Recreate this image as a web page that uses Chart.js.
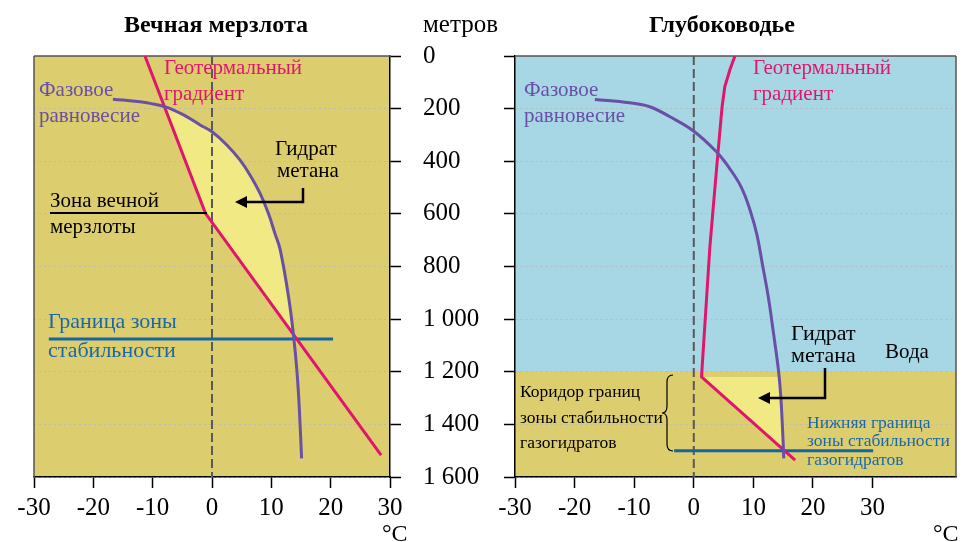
<!DOCTYPE html>
<html lang="ru">
<head>
<meta charset="utf-8">
<title>Зона стабильности газогидратов</title>
<script src="https://cdn.jsdelivr.net/npm/chart.js@4.4.1/dist/chart.umd.min.js"></script>
<style>
  html, body { margin: 0; padding: 0; background: #fff; }
  #wrap { position: relative; width: 963px; height: 542px; overflow: hidden; }
  canvas { position: absolute; top: 0; }
  #permafrost { left: 0; }
  #deepwater { left: 490px; }
</style>
</head>
<body>
<div id="wrap">
  <canvas id="permafrost" width="520" height="542"></canvas>
  <canvas id="deepwater" width="473" height="542"></canvas>
</div>
<script>
// Depth axis (metres), shared by both panels
const depthTicks = [0, 200, 400, 600, 800, 1000, 1200, 1400, 1600];
const depthLabels = ['0', '200', '400', '600', '800', '1 000', '1 200', '1 400', '1 600'];
const tempTicks = [-30, -20, -10, 0, 10, 20, 30];
const zeroLine = [[0, 0], [0, 1600]];

// Permafrost panel, points are [°C, metres]
const permaPhase = [[-16.7, 164], [-12.1, 174], [-10.4, 180], [-7.6, 195], [-4.8, 224], [-2.0, 262], [0, 288],
  [2.5, 338], [4.7, 395], [6.4, 452], [8.1, 522], [9.5, 598], [10.6, 674], [11.5, 737], [12.9, 915],
  [13.7, 1054], [14.3, 1193], [14.7, 1333], [15.1, 1529]];
const permaGeotherm = [[-11.3, 0], [-1.1, 598], [28.5, 1517]];
const permaHydrateEdge = [[-8.0, 188], [-1.1, 598], [13.7, 1058]];
const permaStability = [[-27.5, 1076], [20.4, 1076]];

// Deep water panel
const deepPhase = [[-16.6, 165], [-10.8, 178], [-7.4, 193], [-4.0, 231], [-0.1, 284], [3.8, 364], [6.0, 427],
  [8.0, 500], [9.5, 590], [10.6, 680], [11.5, 790], [12.5, 915], [13.3, 1041], [14.2, 1193], [14.6, 1295],
  [14.9, 1421], [15.1, 1529]];
const deepGeotherm = [[6.9, 0], [6.05, 53], [5.2, 117], [4.75, 193], [4.35, 294], [3.9, 408], [2.7, 725],
  [1.3, 1219], [17.0, 1536]];
const deepHydrateEdge = [[1.3, 1219], [15.0, 1497]];
const deepStability = [[-3.3, 1500], [30.1, 1500]];
const seafloorDepth = 1200;

const OLIVE = '#dccd6f';
const PALE = '#f0e984';
const WATER = '#a7d6e5';
const MAG = '#e0166d';
const PUR = '#6a4fa7';
const BLUE = '#1565a4';
const BLUE_T = '#1b68a8';
const GRID = 'rgba(185, 185, 185, 0.9)';
const SERIF = 'Liberation Serif';

Chart.defaults.font.family = SERIF;
Chart.defaults.color = '#000';

const pts = arr => arr.map(([x, y]) => ({ x, y }));

// background, frame and the hand-placed notes of each panel
const panelDecor = {
  id: 'panelDecor',
  beforeDraw(chart, args, opts) {
    const { ctx, chartArea: a, scales } = chart;
    ctx.save();
    ctx.fillStyle = opts.ground;
    ctx.fillRect(a.left, a.top, a.width, a.height);
    if (opts.water) {
      const yw = scales.y.getPixelForValue(opts.waterDepth);
      ctx.fillStyle = opts.water;
      ctx.fillRect(a.left, a.top, a.width, yw - a.top);
    }
    ctx.restore();
  },
  beforeDatasetsDraw(chart, args, opts) {
    const { ctx, chartArea: a } = chart;
    ctx.save();
    ctx.strokeStyle = '#555';
    ctx.lineWidth = 1.5;
    ctx.beginPath();
    ctx.moveTo(a.left, a.top);
    ctx.lineTo(a.right, a.top);
    const side = opts.frameSide === 'left' ? a.left : a.right;
    ctx.moveTo(side, a.top);
    ctx.lineTo(side, a.bottom);
    ctx.stroke();
    ctx.restore();
  },
  afterDraw(chart, args, opts) {
    const ctx = chart.ctx;
    const dx = opts.dx || 0;
    ctx.save();
    ctx.translate(-dx, 0);
    (opts.texts || []).forEach(t => {
      ctx.font = (t.bold ? 'bold ' : '') + (t.size || 21) + 'px "' + SERIF + '"';
      ctx.fillStyle = t.color || '#000';
      ctx.textAlign = t.align || 'left';
      ctx.textBaseline = 'alphabetic';
      ctx.fillText(t.text, t.x, t.y);
    });
    ctx.strokeStyle = '#000';
    ctx.fillStyle = '#000';
    (opts.lines || []).forEach(l => {
      ctx.lineWidth = 2;
      ctx.beginPath();
      l.forEach(([x, y], i) => (i ? ctx.lineTo(x, y) : ctx.moveTo(x, y)));
      ctx.stroke();
    });
    (opts.arrows || []).forEach(l => {
      const n = l.length;
      const [tx, ty] = l[n - 1];
      const [px, py] = l[n - 2];
      const ang = Math.atan2(ty - py, tx - px);
      ctx.lineWidth = 2.5;
      ctx.beginPath();
      l.forEach(([x, y], i) => {
        if (i === n - 1) { x -= Math.cos(ang) * 8; y -= Math.sin(ang) * 8; }
        i ? ctx.lineTo(x, y) : ctx.moveTo(x, y);
      });
      ctx.stroke();
      ctx.beginPath();
      ctx.moveTo(tx, ty);
      ctx.lineTo(tx - Math.cos(ang) * 12 - Math.sin(ang) * 6, ty - Math.sin(ang) * 12 + Math.cos(ang) * 6);
      ctx.lineTo(tx - Math.cos(ang) * 12 + Math.sin(ang) * 6, ty - Math.sin(ang) * 12 - Math.cos(ang) * 6);
      ctx.closePath();
      ctx.fill();
    });
    if (opts.brace) {
      const { x, spine, tip, top, mid, bottom } = opts.brace;
      ctx.lineWidth = 1.2;
      ctx.beginPath();
      ctx.moveTo(x, top);
      ctx.quadraticCurveTo(spine, top, spine, top + 7);
      ctx.lineTo(spine, mid - 7);
      ctx.quadraticCurveTo(spine, mid, tip, mid);
      ctx.quadraticCurveTo(spine, mid, spine, mid + 7);
      ctx.lineTo(spine, bottom - 7);
      ctx.quadraticCurveTo(spine, bottom, x, bottom);
      ctx.stroke();
    }
    ctx.restore();
  }
};

function lineSet(data, color, extra) {
  return Object.assign({
    data: pts(data),
    borderColor: color,
    borderWidth: 3,
    pointRadius: 0,
    tension: 0,
    fill: false
  }, extra || {});
}

function panelDatasets(phase, geotherm, edge, stability) {
  return [
    lineSet(zeroLine, '#595959', { borderWidth: 2, borderDash: [9, 4], order: 5 }),
    lineSet(phase, PUR, { tension: 0.4 }),
    lineSet(geotherm, MAG),
    lineSet(stability, BLUE),
    // hydrate stability zone, filled up to the phase curve (dataset 1)
    lineSet(edge, 'rgba(0,0,0,0)', { borderWidth: 0, fill: 1, backgroundColor: PALE, order: 10 })
  ];
}

function xScale(max) {
  return {
    type: 'linear', min: -30, max: max,
    afterBuildTicks: s => { s.ticks = tempTicks.map(v => ({ value: v })); },
    afterFit: s => { s.height = 65; },
    ticks: { color: '#000', font: { size: 25 }, padding: 5, maxRotation: 0, autoSkip: false },
    grid: { drawOnChartArea: false, tickLength: 11, tickColor: '#000', tickWidth: 1.5 },
    border: { color: '#000', width: 1.5 }
  };
}

function yScale(position, width, showLabels) {
  return {
    type: 'linear', min: 0, max: 1600, reverse: true, position: position,
    afterBuildTicks: s => { s.ticks = depthTicks.map(v => ({ value: v })); },
    afterFit: s => { s.width = width; },
    ticks: {
      display: showLabels, color: '#000', font: { size: 25 }, padding: 22, autoSkip: false,
      callback: v => depthLabels[depthTicks.indexOf(v)]
    },
    grid: { color: GRID, lineWidth: 1, tickLength: 11, tickColor: '#000', tickWidth: 1.5, tickBorderDash: [] },
    border: { color: '#000', width: 1.5, dash: [2, 3] }
  };
}

new Chart(document.getElementById('permafrost'), {
  type: 'line',
  data: { datasets: panelDatasets(permaPhase, permaGeotherm, permaHydrateEdge, permaStability) },
  options: {
    indexAxis: 'y',
    responsive: false,
    animation: false,
    events: [],
    layout: { padding: { left: 34, top: 56, right: 0, bottom: 0 } },
    scales: { x: xScale(30), y: yScale('right', 130, true) },
    plugins: {
      legend: { display: false },
      tooltip: { enabled: false },
      panelDecor: {
        ground: OLIVE,
        frameSide: 'left',
        dx: 0,
        texts: [
          { text: 'Вечная мерзлота', x: 216, y: 32, size: 24, bold: true, align: 'center' },
          { text: 'метров', x: 423, y: 32, size: 25 },
          { text: '°C', x: 382, y: 541, size: 24 },
          { text: 'Геотермальный', x: 164, y: 74, color: MAG },
          { text: 'градиент', x: 164, y: 100, color: MAG },
          { text: 'Фазовое', x: 39, y: 96, color: PUR },
          { text: 'равновесие', x: 39, y: 122, color: PUR },
          { text: 'Гидрат', x: 275, y: 155, size: 21 },
          { text: 'метана', x: 277, y: 177, size: 21 },
          { text: 'Зона вечной', x: 50, y: 207, size: 21 },
          { text: 'мерзлоты', x: 50, y: 233, size: 21 },
          { text: 'Граница зоны', x: 48, y: 328, size: 22, color: BLUE_T },
          { text: 'стабильности', x: 48, y: 357, size: 22, color: BLUE_T }
        ],
        lines: [[[50, 213], [207, 213]]],
        arrows: [[[303, 188], [303, 202], [235, 202]]]
      }
    }
  },
  plugins: [panelDecor]
});

new Chart(document.getElementById('deepwater'), {
  type: 'line',
  data: { datasets: panelDatasets(deepPhase, deepGeotherm, deepHydrateEdge, deepStability) },
  options: {
    indexAxis: 'y',
    responsive: false,
    animation: false,
    events: [],
    layout: { padding: { left: 0, top: 56, right: 7, bottom: 0 } },
    scales: { x: xScale(44), y: yScale('left', 25, false) },
    plugins: {
      legend: { display: false },
      tooltip: { enabled: false },
      panelDecor: {
        ground: OLIVE,
        water: WATER,
        waterDepth: seafloorDepth,
        frameSide: 'right',
        dx: 490,
        texts: [
          { text: 'Глубоководье', x: 722, y: 32, size: 24, bold: true, align: 'center' },
          { text: '°C', x: 933, y: 541, size: 24 },
          { text: 'Фазовое', x: 524, y: 96, color: PUR },
          { text: 'равновесие', x: 524, y: 122, color: PUR },
          { text: 'Геотермальный', x: 753, y: 74, color: MAG },
          { text: 'градиент', x: 753, y: 100, color: MAG },
          { text: 'Гидрат', x: 791, y: 340, size: 22 },
          { text: 'метана', x: 791, y: 362, size: 22 },
          { text: 'Вода', x: 885, y: 358, size: 21 },
          { text: 'Коридор границ', x: 520, y: 397, size: 17.5 },
          { text: 'зоны стабильности', x: 520, y: 423, size: 17.5 },
          { text: 'газогидратов', x: 520, y: 448, size: 17.5 },
          { text: 'Нижняя граница', x: 807, y: 428, size: 17.5, color: BLUE_T },
          { text: 'зоны стабильности', x: 807, y: 446, size: 17.5, color: BLUE_T },
          { text: 'газогидратов', x: 807, y: 465, size: 17.5, color: BLUE_T }
        ],
        arrows: [[[825, 368], [825, 398], [758, 398]]],
        brace: { x: 673, spine: 667, tip: 662, top: 375, mid: 413, bottom: 451 }
      }
    }
  },
  plugins: [panelDecor]
});
</script>
</body>
</html>
